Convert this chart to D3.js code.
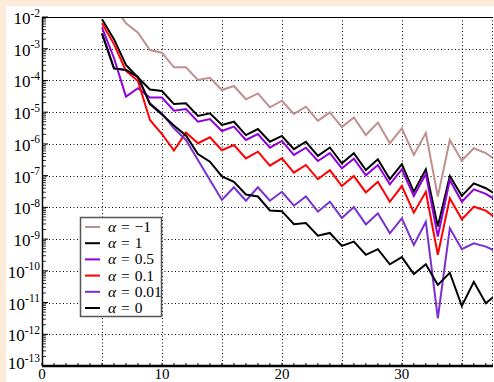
<!DOCTYPE html>
<html>
<head>
<meta charset="utf-8">
<script src="https://cdn.jsdelivr.net/npm/d3@7"></script>
<style>
  body { margin: 0; background: #fdebd9; }
  svg { display: block; }
  text { font-family: 'Liberation Serif', 'DejaVu Serif', serif; fill: #000; }
</style>
</head>
<body>
<svg id="chart" width="494" height="382"></svg>
<script>
const N = d3.range(5, 39);

const LABELS = ['\u03b1 = \u22121', '\u03b1 = 1', '\u03b1 = 0.5', '\u03b1 = 0.1', '\u03b1 = 0.01', '\u03b1 = 0'];
const COLORS = ['#c09090', '#000000', '#9100dd', '#ff0000', '#7a2fd0', '#000000'];

// one array per alpha, n = 5 .. 38
const alphaM1 = [5e-2, 2.2e-2, 6.3e-3, 3.2e-3, 9.1e-4, 7.5e-4, 2.6e-4, 2.6e-4, 1.04e-4, 1.22e-4,
  5.0e-5, 6.7e-5, 2.55e-5, 3.9e-5, 1.43e-5, 2.3e-5, 8.8e-6, 1.49e-5, 5.3e-6, 9.8e-6,
  3.4e-6, 6.8e-6, 1.9e-6, 4.7e-6, 1.05e-6, 3.1e-6, 4.5e-7, 2.2e-6, 2.2e-8, 1.33e-6,
  3.0e-7, 7.3e-7, 5.1e-7, 2.9e-7];
const alpha1 = [8.5e-3, 2.0e-3, 3.1e-4, 1.24e-4, 5.2e-5, 4.65e-5, 1.8e-5, 1.9e-5, 7.6e-6, 9.2e-6,
  3.95e-6, 5.0e-6, 1.9e-6, 2.95e-6, 1.17e-6, 1.78e-6, 6.8e-7, 1.17e-6, 4.2e-7, 7.7e-7,
  2.45e-7, 5.1e-7, 1.5e-7, 3.3e-7, 7.7e-8, 2.3e-7, 3.1e-8, 1.58e-7, 2.5e-9, 9.7e-8,
  2.3e-8, 5.7e-8, 4.0e-8, 2.35e-8];
const alpha05 = [4.7e-3, 5.1e-4, 3.1e-5, 5.7e-5, 2.9e-5, 2.9e-5, 1.11e-5, 1.26e-5, 5.0e-6, 6.1e-6,
  2.55e-6, 3.5e-6, 1.33e-6, 2.05e-6, 7.6e-7, 1.24e-6, 4.5e-7, 7.6e-7, 2.9e-7, 5.1e-7,
  1.7e-7, 3.4e-7, 1.03e-7, 2.17e-7, 5.3e-8, 1.58e-7, 2.3e-8, 1.13e-7, 1.2e-9, 7.3e-8,
  1.5e-8, 3.7e-8, 2.65e-8, 1.57e-8];
const alpha01 = [6.3e-3, 1.4e-3, 2.0e-4, 9.6e-5, 5.7e-6, 2.05e-6, 6.2e-7, 2.3e-6, 1.05e-6, 1.62e-6,
  6.3e-7, 9.2e-7, 3.5e-7, 5.7e-7, 2.06e-7, 3.5e-7, 1.24e-7, 2.17e-7, 7.7e-8, 1.48e-7,
  4.7e-8, 9.7e-8, 2.95e-8, 6.4e-8, 1.5e-8, 4.7e-8, 6.8e-9, 3.1e-8, 3.2e-10, 1.93e-8,
  4.2e-9, 1.05e-8, 7.9e-9, 4.1e-9];
const alpha001 = [3.06e-3, 2.4e-4, 2.14e-4, 1.29e-4, 1.9e-5, 9.2e-6, 3.1e-6, 1.33e-6, 3.1e-7, 7.3e-8,
  1.71e-8, 4.3e-8, 1.62e-8, 4.3e-8, 1.62e-8, 3.1e-8, 1.13e-8, 2.2e-8, 7.3e-9, 1.5e-8,
  4.6e-9, 1.03e-8, 2.9e-9, 6.5e-9, 1.52e-9, 4.5e-9, 6.5e-10, 3.5e-9, 3.2e-12, 2.2e-9,
  4.8e-10, 7.4e-10, 5.8e-10, 3.9e-10];
const alpha0 = [3.06e-3, 2.4e-4, 2.14e-4, 1.29e-4, 1.8e-5, 8.5e-6, 3.8e-6, 1.84e-6, 4.8e-7, 2.75e-7,
  9.4e-8, 6.4e-8, 2.55e-8, 2.2e-8, 8.0e-9, 7.6e-9, 2.95e-9, 3.2e-9, 1.28e-9, 1.56e-9,
  6.1e-10, 8.3e-10, 3.2e-10, 4.8e-10, 1.61e-10, 2.7e-10, 7.9e-11, 1.61e-10, 3.6e-11, 8.7e-11,
  7.8e-12, 4.5e-11, 9.5e-12, 1.96e-11];

const SERIES = [alphaM1, alpha1, alpha05, alpha01, alpha001, alpha0];

const X_TICKS = [0, 10, 20, 30];
const X_GRID = [5, 10, 15, 20, 25, 30, 35];
const Y_EXP = d3.range(-13, -1);

const margin = { top: 17, right: 1, bottom: 16, left: 42 };
const width = 494;
const height = 382;

const $svg = d3.select('#chart');

const scale = {
	x: d3.scaleLinear().domain([0, 37.6]).range([margin.left, width - margin.right]),
	y: d3.scaleLog().domain([1e-13, 1e-2]).range([height - margin.bottom, margin.top])
};

function setupBackground() {
	$svg.append('rect').attr('width', width).attr('height', height).attr('fill', '#fdebd9');
	$svg.append('rect').attr('x', 6).attr('y', 6).attr('width', width - 6).attr('height', height - 6).attr('fill', '#fff');
	$svg.append('clipPath').attr('id', 'plot-clip')
		.append('rect')
		.attr('x', scale.x.range()[0])
		.attr('y', scale.y.range()[1])
		.attr('width', scale.x.range()[1] - scale.x.range()[0])
		.attr('height', scale.y.range()[0] - scale.y.range()[1]);
}

function setupGrid() {
	const $grid = $svg.append('g').attr('class', 'grid')
		.attr('stroke', '#000').attr('stroke-width', 1).attr('stroke-dasharray', '1,2.5');
	const [x0, x1] = scale.x.range();
	const [y0, y1] = scale.y.range();

	$grid.selectAll('line.v').data(X_GRID).enter().append('line')
		.attr('x1', d => Math.round(scale.x(d)) + 0.5).attr('x2', d => Math.round(scale.x(d)) + 0.5)
		.attr('y1', y1).attr('y2', y0);

	$grid.selectAll('line.h').data(Y_EXP.slice(1)).enter().append('line')
		.attr('y1', d => Math.round(scale.y(Math.pow(10, d))) + 0.5)
		.attr('y2', d => Math.round(scale.y(Math.pow(10, d))) + 0.5)
		.attr('x1', x0).attr('x2', x1);
}

function setupAxis() {
	const [x0, x1] = scale.x.range();
	const [y0, y1] = scale.y.range();

	// minor ticks for every decade inside the domain
	const minors = [];
	Y_EXP.filter(e => e < -2).forEach(e => {
		d3.range(2, 10).forEach(m => minors.push(m * Math.pow(10, e)));
	});
	const $ax = $svg.append('g').attr('class', 'axis').attr('stroke', '#000');
	$ax.selectAll('line.minor').data(minors).enter().append('line')
		.attr('x1', x0).attr('x2', x0 + 4)
		.attr('y1', d => scale.y(d)).attr('y2', d => scale.y(d))
		.attr('stroke-width', 0.8);
	$ax.selectAll('line.major').data(Y_EXP).enter().append('line')
		.attr('x1', x0).attr('x2', x0 + 6)
		.attr('y1', d => scale.y(Math.pow(10, d))).attr('y2', d => scale.y(Math.pow(10, d)))
		.attr('stroke-width', 1);

	// x minor ticks
	$ax.selectAll('line.xminor').data(d3.range(0, 38, 1)).enter().append('line')
		.attr('x1', d => scale.x(d)).attr('x2', d => scale.x(d))
		.attr('y1', y0).attr('y2', y0 - 3)
		.attr('stroke-width', 1);

	$ax.append('line').attr('x1', x0).attr('x2', x1).attr('y1', y0).attr('y2', y0).attr('stroke-width', 2.5);
	$ax.append('line').attr('x1', x0).attr('x2', x1).attr('y1', y1 + 0.5).attr('y2', y1 + 0.5).attr('stroke-width', 1.2);
	$ax.append('line').attr('x1', x0 + 0.5).attr('x2', x0 + 0.5).attr('y1', y1).attr('y2', y0).attr('stroke-width', 1.5);
	$ax.append('line').attr('x1', x1 - 0.5).attr('x2', x1 - 0.5).attr('y1', y1).attr('y2', y0)
		.attr('stroke-width', 1).attr('stroke-dasharray', '1,2.5');

	// y labels
	const $yl = $svg.append('g').attr('class', 'ylabels');
	const $t = $yl.selectAll('text').data(Y_EXP.concat([-2]).filter((d, i, a) => a.indexOf(d) === i)).enter().append('text')
		.attr('x', 40)
		.attr('y', d => scale.y(Math.pow(10, d)) + (d === -13 ? 3 : 7))
		.attr('text-anchor', 'end');
	$t.append('tspan').attr('font-size', 17).text('10');
	$t.append('tspan').attr('font-size', 11.5).attr('dy', -7.5).text(d => d);

	// x labels
	$svg.append('g').attr('class', 'xlabels').selectAll('text').data(X_TICKS).enter().append('text')
		.attr('x', d => scale.x(d))
		.attr('y', height - 3.5)
		.attr('text-anchor', 'middle')
		.attr('font-size', 15)
		.text(d => d);
}

function renderLines() {
	const line = d3.line()
		.x((d, i) => scale.x(N[i]))
		.y(d => scale.y(d));

	$svg.append('g').attr('clip-path', 'url(#plot-clip)')
		.selectAll('path').data(SERIES).enter().append('path')
		.attr('d', line)
		.attr('fill', 'none')
		.attr('stroke', (d, i) => COLORS[i])
		.attr('stroke-width', 2)
		.attr('stroke-linejoin', 'miter');
}

function renderLegend() {
	const lx = 80;
	const ly = 217;
	const $lg = $svg.append('g').attr('class', 'legend').attr('transform', `translate(${lx},${ly})`);
	$lg.append('rect').attr('x', 0.5).attr('y', 0.5).attr('width', 81).attr('height', 99)
		.attr('fill', '#fff').attr('stroke', '#555').attr('stroke-width', 1.5);

	const $item = $lg.selectAll('g.item').data(LABELS).enter().append('g')
		.attr('transform', (d, i) => `translate(0,${10 + i * 16.2})`);
	$item.append('line').attr('x1', 5).attr('x2', 20).attr('y1', 0).attr('y2', 0)
		.attr('stroke', (d, i) => COLORS[i]).attr('stroke-width', 2);
	const $txt = $item.append('text').attr('x', 28).attr('y', 5)
		.attr('font-size', 15.5).attr('word-spacing', 1);
	$txt.append('tspan').attr('font-style', 'italic').text(d => d.slice(0, 1));
	$txt.append('tspan').text(d => d.slice(1));
}

setupBackground();
setupGrid();
renderLines();
setupAxis();
renderLegend();
</script>
</body>
</html>
